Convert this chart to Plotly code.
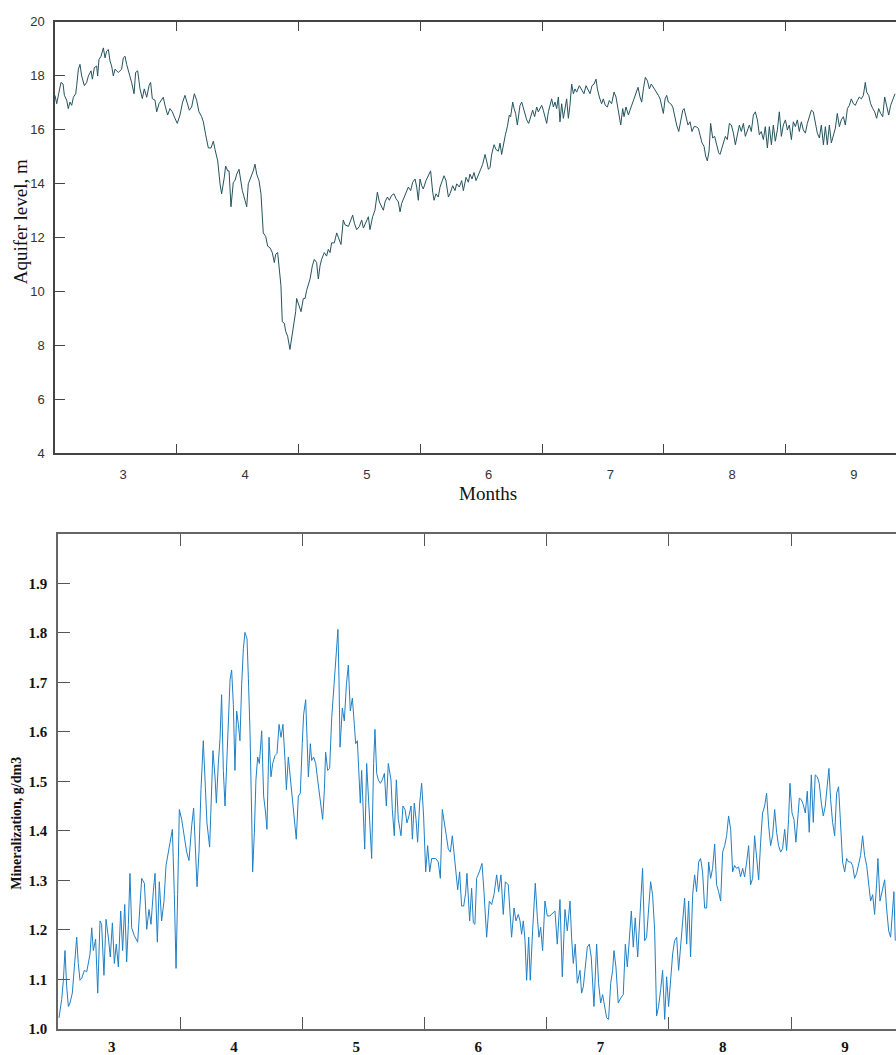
import plotly.graph_objects as go

# ---------------- data ----------------
month_labels = ["3", "4", "5", "6", "7", "8", "9"]
month_boundaries = [4, 5, 6, 7, 8, 9]

# Aquifer level (m) vs time in months
level_x = [
    3.000, 3.014, 3.033, 3.049, 3.066, 3.077, 3.096, 3.109, 3.123, 3.137,
    3.151, 3.170, 3.178, 3.192, 3.205, 3.219, 3.241, 3.260, 3.274, 3.296,
    3.307, 3.323, 3.342, 3.350, 3.361, 3.378, 3.397, 3.411, 3.424, 3.438,
    3.452, 3.465, 3.479, 3.493, 3.520, 3.547, 3.561, 3.575, 3.588, 3.608,
    3.629, 3.649, 3.662, 3.679, 3.698, 3.717, 3.733, 3.753, 3.772, 3.785,
    3.799, 3.821, 3.835, 3.854, 3.870, 3.889, 3.903, 3.925, 3.944, 3.963,
    3.985, 4.004, 4.026, 4.048, 4.067, 4.086, 4.103, 4.122, 4.144, 4.163,
    4.182, 4.204, 4.218, 4.237, 4.259, 4.281, 4.300, 4.314, 4.336, 4.355,
    4.368, 4.390, 4.401, 4.418, 4.429, 4.445, 4.464, 4.478, 4.492, 4.511,
    4.527, 4.538, 4.560, 4.574, 4.587, 4.609, 4.628, 4.642, 4.656, 4.675,
    4.691, 4.710, 4.730, 4.746, 4.765, 4.784, 4.801, 4.812, 4.828, 4.839,
    4.855, 4.866, 4.883, 4.894, 4.910, 4.929, 4.943, 4.957, 4.976, 4.984,
    5.003, 5.020, 5.039, 5.053, 5.066, 5.080, 5.094, 5.113, 5.129, 5.148,
    5.162, 5.176, 5.189, 5.211, 5.230, 5.244, 5.258, 5.271, 5.293, 5.313,
    5.332, 5.348, 5.367, 5.381,
    5.409, 5.428, 5.444, 5.458, 5.477, 5.499, 5.518, 5.532, 5.554, 5.573,
    5.586, 5.608, 5.627, 5.647, 5.663, 5.682, 5.696, 5.710, 5.729, 5.745,
    5.764, 5.783, 5.800, 5.819, 5.833, 5.846, 5.866, 5.882, 5.901, 5.920,
    5.937, 5.956, 5.970, 5.983, 5.997, 6.011, 6.024, 6.046, 6.065, 6.084,
    6.101, 6.112, 6.128, 6.147, 6.161, 6.178, 6.194, 6.210, 6.230, 6.243,
    6.265, 6.284, 6.298, 6.320, 6.339, 6.353, 6.375, 6.394, 6.407, 6.424,
    6.440, 6.457, 6.476, 6.495, 6.511, 6.531, 6.544, 6.558, 6.572, 6.585,
    6.605, 6.621, 6.640, 6.654, 6.667, 6.681, 6.698, 6.714, 6.730, 6.741,
    6.758, 6.769, 6.782, 6.796, 6.807, 6.818, 6.832, 6.845, 6.859, 6.873,
    6.889, 6.905, 6.922, 6.938, 6.955, 6.968, 6.982, 6.996, 7.009, 7.023,
    7.037, 7.051, 7.064, 7.078, 7.092, 7.105, 7.119, 7.133, 7.146, 7.160,
    7.174, 7.187, 7.201, 7.215, 7.228, 7.242, 7.256, 7.269, 7.283, 7.305,
    7.324, 7.343, 7.360, 7.379, 7.393, 7.409, 7.426, 7.442, 7.453, 7.469,
    7.488, 7.502, 7.518, 7.535, 7.551, 7.570, 7.590, 7.606, 7.625, 7.639,
    7.645, 7.661, 7.672, 7.688, 7.708, 7.721, 7.735, 7.754, 7.770, 7.787,
    7.803, 7.817, 7.831, 7.847, 7.864, 7.880, 7.896, 7.913, 7.935, 7.954,
    7.968, 7.981, 7.995, 8.009, 8.022, 8.036, 8.055, 8.072, 8.091, 8.104,
    8.121, 8.137, 8.154, 8.165, 8.181, 8.197, 8.214, 8.230, 8.247, 8.263,
    8.282, 8.296, 8.312, 8.329, 8.342, 8.356, 8.370, 8.383, 8.400, 8.416,
    8.433, 8.449, 8.460, 8.477, 8.488, 8.504, 8.520, 8.537, 8.553, 8.570,
    8.586, 8.602, 8.619, 8.635, 8.652, 8.668, 8.685, 8.701, 8.717, 8.734,
    8.750, 8.767, 8.783, 8.799, 8.816, 8.832, 8.849, 8.865, 8.882, 8.898,
    8.914, 8.931, 8.947, 8.964, 8.980, 8.997, 9.013, 9.029, 9.046, 9.062,
    9.079, 9.095, 9.111, 9.128, 9.144, 9.161, 9.177, 9.194, 9.210, 9.226,
    9.243, 9.259, 9.276, 9.292, 9.309, 9.325, 9.341, 9.358, 9.374, 9.391,
    9.407, 9.423, 9.440, 9.456, 9.473, 9.489, 9.506, 9.522, 9.538, 9.555,
    9.571, 9.588, 9.604, 9.620, 9.637, 9.653, 9.664, 9.681, 9.697, 9.714,
    9.730, 9.746, 9.763, 9.779, 9.796, 9.812, 9.828, 9.845, 9.861, 9.878,
    9.897,
]
level_m = [
    17.27, 16.96, 17.39, 17.75, 17.69, 17.27, 17.09, 16.78, 17.02, 16.90,
    17.20, 17.33, 17.63, 18.24, 18.42, 17.99, 17.63, 17.75, 17.99, 18.18,
    17.87, 18.30, 18.36, 17.99, 18.60, 18.72, 19.03, 18.66, 18.91, 18.97,
    18.54, 18.36, 17.99, 18.24, 18.12, 18.24, 18.66, 18.72, 18.42, 18.12,
    17.75, 17.33, 18.12, 18.18, 17.51, 17.15, 17.51, 17.20, 17.63, 17.75,
    17.15, 17.09, 16.66, 16.96, 17.09, 17.20, 16.90, 16.54, 16.78, 16.66,
    16.42, 16.23, 16.54, 17.02, 17.27, 17.02, 16.72, 16.84, 17.33, 17.09,
    16.66, 16.48, 16.29, 15.81, 15.32, 15.32, 15.57, 15.26, 14.84, 13.99,
    13.62, 14.23, 14.65, 14.47, 14.47, 13.14, 14.05, 14.11, 14.35, 14.53,
    14.11, 13.74, 13.38, 13.14, 13.99, 14.23, 14.47, 14.72, 14.35, 14.11,
    13.62, 12.17, 12.04, 11.68, 11.62, 11.44, 11.07, 11.38, 11.44, 10.95,
    10.22, 8.88, 8.82, 8.52, 8.34, 7.85, 8.28, 8.52, 9.25, 9.74,
    9.49, 9.25, 9.74, 9.74, 10.04, 10.22, 10.46, 10.95, 11.19, 11.07,
    10.46, 10.95, 11.19, 11.44, 11.31, 11.56, 11.44, 11.80, 11.80, 12.17,
    11.92, 11.74, 12.65, 12.47,
    12.41, 12.65, 12.83, 12.53, 12.29, 12.41, 12.65, 12.35, 12.59, 12.77,
    12.29, 12.77, 13.01, 13.68, 13.32, 13.14, 13.01, 13.32, 13.50, 13.38,
    13.56, 13.62, 13.44, 13.32, 12.95, 13.26, 13.50, 13.68, 13.87, 13.74,
    14.05, 14.17, 13.87, 13.38, 14.17, 13.92, 13.80, 14.11, 14.29, 14.47,
    13.68, 13.38, 13.62, 13.50, 13.87, 14.05, 14.29, 14.11, 13.50, 13.62,
    13.92, 13.74, 13.99, 13.87, 14.11, 13.74, 14.23, 14.05, 14.35, 14.17,
    14.41, 14.11, 14.29, 14.53, 14.71, 15.08, 14.84, 14.53, 14.59, 15.08,
    15.44, 15.26, 15.20, 15.50, 15.08, 15.44, 15.81, 16.11, 16.54, 16.48,
    17.02, 16.78, 16.60, 16.17, 16.48, 16.90, 17.02, 16.78, 16.60, 16.36,
    16.23, 16.48, 16.72, 16.48, 16.84, 16.66, 16.78, 16.90, 16.72, 16.48,
    16.23, 16.66, 16.90, 17.14, 16.84, 17.02, 16.78, 17.21, 16.29, 16.96,
    16.42, 16.78, 17.14, 16.42, 16.90, 17.69, 17.33, 17.51, 17.39, 17.63,
    17.45, 17.33, 17.63, 17.45, 17.33, 17.63, 17.69, 17.87, 17.51, 17.21,
    16.96, 17.14, 16.90, 16.84, 17.08, 16.96, 17.39, 17.21, 16.66, 16.23,
    16.17, 16.78, 16.48, 16.84, 16.54, 16.72, 16.90, 17.14, 17.33, 17.57,
    17.21, 17.02, 17.51, 17.94, 17.81, 17.51, 17.69, 17.57, 17.45, 17.27,
    17.14, 16.90, 16.60, 17.14, 17.27, 17.02, 16.96, 16.84, 16.36, 16.17,
    15.93, 16.29, 16.72, 16.78, 16.42, 16.17, 16.29, 15.93, 16.11, 16.11,
    16.05, 15.75, 15.51, 15.38, 15.02, 14.84, 15.20, 16.23, 15.69, 15.75,
    15.44, 15.14, 15.08, 15.38, 15.57, 15.75, 15.63, 16.23, 16.17, 15.87,
    15.44, 15.87, 16.17, 15.93, 16.23, 15.75, 15.99, 16.17, 15.93, 16.54,
    16.66, 16.36, 15.81, 15.93, 15.63, 16.11, 15.32, 16.11, 15.44, 16.17,
    15.57, 15.99, 16.66, 15.75, 16.17, 16.36, 15.99, 16.17, 15.63, 16.29,
    16.11, 16.36, 15.93, 16.29, 15.99, 15.87, 16.23, 16.54, 16.72, 16.66,
    16.29, 15.87, 15.69, 16.17, 15.44, 16.11, 15.44, 16.17, 15.51, 15.75,
    16.05, 16.60, 16.11, 16.36, 16.48, 16.17, 16.78, 16.90, 17.14, 16.96,
    16.90, 17.08, 17.21, 17.14, 17.27, 17.75, 17.39, 17.27, 16.96, 16.78,
    16.66, 16.42, 16.78, 16.60, 16.48, 17.21, 16.90, 16.54, 16.90, 17.14,
    17.33,
]

# Mineralization (g/dm3) vs time in months
mineral_x = [
    3.008, 3.030, 3.044, 3.057, 3.071, 3.085, 3.098, 3.117, 3.134, 3.153,
    3.166, 3.180, 3.194, 3.216, 3.235, 3.248, 3.262, 3.276, 3.289, 3.308,
    3.325, 3.344, 3.357, 3.376, 3.393, 3.412, 3.428, 3.445, 3.461, 3.477,
    3.494, 3.513, 3.529, 3.546, 3.562, 3.576, 3.589, 3.603, 3.625, 3.652,
    3.671, 3.685, 3.707, 3.726, 3.745, 3.761, 3.780, 3.794, 3.813, 3.829,
    3.848, 3.867, 3.884, 3.903, 3.919, 3.936, 3.952, 3.966, 3.979, 3.993,
    4.012, 4.034, 4.053, 4.072, 4.080, 4.094, 4.110, 4.121, 4.138, 4.154,
    4.170, 4.189, 4.203, 4.219, 4.241, 4.258, 4.268, 4.285, 4.296, 4.312,
    4.326, 4.339, 4.353, 4.367, 4.380, 4.394, 4.408, 4.421, 4.435, 4.448,
    4.462, 4.476, 4.489, 4.503, 4.517, 4.530, 4.547, 4.558, 4.571, 4.585,
    4.593, 4.607, 4.620, 4.634, 4.648, 4.667, 4.683, 4.699, 4.710, 4.727,
    4.743, 4.757, 4.776, 4.792, 4.809, 4.825, 4.841, 4.858, 4.869, 4.885,
    4.901, 4.918, 4.934, 4.950, 4.967, 4.983, 4.999, 5.010, 5.027, 5.038,
    5.049, 5.065, 5.076, 5.092, 5.109, 5.125, 5.144, 5.166, 5.180, 5.190,
    5.207, 5.223, 5.240, 5.256, 5.267, 5.280, 5.291, 5.300, 5.308, 5.327,
    5.343, 5.360, 5.376, 5.392, 5.409, 5.425, 5.436, 5.450, 5.463, 5.474,
    5.485, 5.499, 5.510, 5.526, 5.540, 5.553, 5.567, 5.583, 5.594, 5.608,
    5.621, 5.638, 5.654, 5.671, 5.687, 5.703, 5.725, 5.736, 5.752, 5.769,
    5.785, 5.807, 5.823, 5.840, 5.856, 5.872, 5.889, 5.900, 5.916, 5.930,
    5.943, 5.960, 5.976, 5.992, 6.009, 6.025, 6.042, 6.058, 6.074, 6.091,
    6.112, 6.129, 6.145, 6.162, 6.178, 6.194, 6.211, 6.227, 6.243, 6.260,
    6.271, 6.287, 6.303, 6.320, 6.336, 6.347, 6.358, 6.369, 6.385, 6.399,
    6.412,
    6.426, 6.448, 6.470, 6.486, 6.508, 6.530, 6.549, 6.568, 6.590, 6.606,
    6.625, 6.644, 6.661, 6.685, 6.699, 6.712, 6.732, 6.748, 6.767, 6.781,
    6.794, 6.808, 6.822, 6.835, 6.852, 6.865, 6.884, 6.906, 6.923, 6.936,
    6.950, 6.966, 6.985, 7.004, 7.026, 7.048, 7.067, 7.086, 7.108, 7.127,
    7.149, 7.168, 7.190, 7.203, 7.217, 7.233, 7.250, 7.272, 7.285, 7.299,
    7.315, 7.332, 7.348, 7.364, 7.386, 7.408, 7.424, 7.441, 7.457, 7.474,
    7.490, 7.506, 7.523, 7.539, 7.550, 7.566, 7.585, 7.605, 7.626, 7.643,
    7.659, 7.675, 7.692, 7.708, 7.724, 7.744, 7.763, 7.784, 7.801, 7.817,
    7.834, 7.850, 7.866, 7.883, 7.899, 7.915, 7.932, 7.948, 7.965, 7.981,
    7.997, 8.014, 8.030, 8.046, 8.063, 8.079, 8.096, 8.112, 8.128, 8.145,
    8.161, 8.177, 8.194, 8.210, 8.226, 8.243, 8.259, 8.275, 8.292, 8.308,
    8.325, 8.341, 8.357, 8.374, 8.390, 8.406, 8.423, 8.439, 8.456, 8.472,
    8.488, 8.505, 8.521, 8.537, 8.554, 8.570, 8.586, 8.603, 8.619, 8.636,
    8.652, 8.668, 8.685, 8.701, 8.717, 8.734, 8.750, 8.766, 8.783, 8.799,
    8.816, 8.832, 8.848, 8.865, 8.881, 8.897, 8.914, 8.930, 8.947, 8.963,
    8.979, 8.990, 9.007, 9.023, 9.039, 9.056, 9.067, 9.083, 9.099, 9.116,
    9.132, 9.148, 9.165, 9.181, 9.197, 9.214, 9.230, 9.247, 9.263, 9.279,
    9.296, 9.309, 9.323, 9.339, 9.356, 9.372, 9.388, 9.405, 9.421, 9.438,
    9.454, 9.470, 9.487, 9.503, 9.519, 9.536, 9.552, 9.568, 9.585, 9.601,
    9.618, 9.634, 9.650, 9.667, 9.683, 9.699, 9.710, 9.727, 9.743, 9.765,
    9.781, 9.798, 9.814, 9.830, 9.841, 9.852,
]
mineral_g = [
    1.022, 1.059, 1.098, 1.158, 1.085, 1.045, 1.052, 1.072, 1.125, 1.185,
    1.132, 1.098, 1.102, 1.118, 1.115, 1.132, 1.151, 1.204, 1.158, 1.181,
    1.072, 1.218, 1.211, 1.108, 1.221, 1.185, 1.145, 1.214, 1.132, 1.171,
    1.125, 1.238, 1.158, 1.251, 1.135, 1.211, 1.314, 1.204, 1.188, 1.175,
    1.238, 1.304, 1.294, 1.201, 1.241, 1.211, 1.277, 1.314, 1.175, 1.297,
    1.218, 1.257, 1.330, 1.357, 1.383, 1.403, 1.271, 1.122, 1.271, 1.443,
    1.423, 1.390, 1.357, 1.340, 1.370, 1.410, 1.446, 1.383, 1.287, 1.357,
    1.483, 1.582, 1.503, 1.416, 1.367, 1.470, 1.562, 1.509, 1.456, 1.536,
    1.586, 1.675, 1.522, 1.450, 1.536, 1.615, 1.705, 1.725, 1.655, 1.522,
    1.642, 1.615, 1.582, 1.695, 1.768, 1.801, 1.788, 1.708, 1.602, 1.430,
    1.317, 1.397, 1.503, 1.549, 1.536, 1.602, 1.470, 1.436, 1.403, 1.589,
    1.509, 1.536, 1.552, 1.556, 1.615, 1.589, 1.615, 1.542, 1.483, 1.549,
    1.509, 1.470, 1.430, 1.383, 1.470, 1.476, 1.576, 1.635, 1.665, 1.602,
    1.509, 1.576, 1.542, 1.549, 1.536, 1.503, 1.470, 1.423, 1.483, 1.559,
    1.522, 1.526, 1.629, 1.688, 1.715, 1.761, 1.807, 1.701, 1.569, 1.648,
    1.622, 1.695, 1.735, 1.642, 1.668, 1.615, 1.576, 1.582, 1.509, 1.456,
    1.522, 1.436, 1.363, 1.536, 1.470, 1.403, 1.344, 1.536, 1.605, 1.516,
    1.503, 1.496, 1.503, 1.516, 1.450, 1.536, 1.503, 1.443, 1.390, 1.503,
    1.423, 1.390, 1.450, 1.443, 1.416, 1.430, 1.450, 1.383, 1.456, 1.423,
    1.377, 1.456, 1.496, 1.430, 1.317, 1.370, 1.317, 1.344, 1.344, 1.344,
    1.337, 1.304, 1.443, 1.410, 1.390, 1.363, 1.357, 1.390, 1.350, 1.317,
    1.281, 1.317, 1.248, 1.248, 1.274, 1.314, 1.257, 1.218, 1.284, 1.214,
    1.211,
    1.304, 1.317, 1.334, 1.277, 1.185, 1.258, 1.251, 1.271, 1.311, 1.277,
    1.311, 1.231, 1.297, 1.291, 1.238, 1.185, 1.244, 1.218, 1.231, 1.218,
    1.191, 1.218, 1.178, 1.098, 1.185, 1.098, 1.198, 1.294, 1.224, 1.185,
    1.205, 1.158, 1.258, 1.228, 1.228, 1.234, 1.238, 1.171, 1.261, 1.105,
    1.241, 1.198, 1.258, 1.185, 1.132, 1.171, 1.092, 1.118, 1.072, 1.085,
    1.118, 1.165, 1.171, 1.145, 1.045, 1.171, 1.092, 1.052, 1.069, 1.045,
    1.022, 1.019, 1.092, 1.118, 1.158, 1.125, 1.052, 1.062, 1.069, 1.171,
    1.125, 1.178, 1.238, 1.165, 1.224, 1.145, 1.238, 1.324, 1.178, 1.185,
    1.244, 1.297, 1.271, 1.198, 1.026, 1.045, 1.079, 1.118, 1.019, 1.105,
    1.045, 1.105, 1.151, 1.178, 1.185, 1.118, 1.171, 1.224, 1.264, 1.171,
    1.258, 1.145, 1.271, 1.311, 1.277, 1.337, 1.344, 1.317, 1.244, 1.244,
    1.337, 1.304, 1.324, 1.373, 1.291, 1.277, 1.258, 1.357, 1.370, 1.390,
    1.430, 1.403, 1.317, 1.330, 1.324, 1.327, 1.307, 1.324, 1.307, 1.337,
    1.370, 1.291, 1.304, 1.390, 1.350, 1.301, 1.377, 1.436, 1.450, 1.476,
    1.410, 1.370, 1.390, 1.443, 1.397, 1.370, 1.357, 1.364, 1.403, 1.360,
    1.423, 1.496, 1.436, 1.423, 1.377, 1.423, 1.466, 1.463, 1.453, 1.436,
    1.480, 1.397, 1.513, 1.417, 1.513, 1.509, 1.496, 1.456, 1.430, 1.450,
    1.496, 1.526, 1.463, 1.417, 1.390, 1.476, 1.489, 1.410, 1.337, 1.317,
    1.344, 1.337, 1.337, 1.330, 1.304, 1.314, 1.330, 1.350, 1.390, 1.350,
    1.330, 1.297, 1.258, 1.271, 1.231, 1.291, 1.344, 1.258, 1.277, 1.301,
    1.244, 1.198, 1.185, 1.251, 1.277, 1.178,
]

level_ticks = [4, 6, 8, 10, 12, 14, 16, 18, 20]
mineral_ticks = [1.0, 1.1, 1.2, 1.3, 1.4, 1.5, 1.6, 1.7, 1.8, 1.9]

# ---------------- figure ----------------
W, H = 896, 1055
TOP_LABEL_OFFSET = 0.56
BOT_LABEL_OFFSET = 0.44

fig = go.Figure()
fig.add_trace(go.Scatter(x=level_x, y=level_m, mode="lines",
                         line=dict(color="#24535e", width=1),
                         xaxis="x", yaxis="y", showlegend=False))
fig.add_trace(go.Scatter(x=mineral_x, y=mineral_g, mode="lines",
                         line=dict(color="#1f80c6", width=1),
                         xaxis="x2", yaxis="y2", showlegend=False))

sans = dict(family="Liberation Sans, Arial", size=13, color="#333333")
serif_bold = dict(family="Liberation Serif, Times New Roman", size=15,
                  color="#111111", weight="bold")

top_label_pos = [int(m) + TOP_LABEL_OFFSET for m in month_labels]
bot_label_pos = [int(m) + BOT_LABEL_OFFSET for m in month_labels]

fig.update_layout(
    width=W, height=H,
    margin=dict(l=0, r=0, t=0, b=0),
    paper_bgcolor="white", plot_bgcolor="white",
    xaxis=dict(
        domain=[55 / W, 1.0], anchor="y", range=[3, 9.905],
        showline=True, linecolor="#444444", linewidth=1.5, mirror="ticks",
        tickmode="array", tickvals=top_label_pos, ticktext=month_labels,
        ticks="", tickfont=sans, ticklabelstandoff=8,
        showgrid=False, zeroline=False,
        minor=dict(tickmode="array", tickvals=month_boundaries,
                   ticks="inside", ticklen=10, tickwidth=1.3,
                   tickcolor="#444444", showgrid=False),
    ),
    yaxis=dict(
        domain=[1 - 454 / H, 1 - 15 / H], anchor="x", range=[4, 20],
        showline=True, linecolor="#444444", linewidth=1.5, mirror=False,
        tickmode="array", tickvals=level_ticks,
        ticks="inside", ticklen=10, tickwidth=1.3, tickcolor="#444444",
        tickfont=sans, ticklabelstandoff=6,
        showgrid=False, zeroline=False,
    ),
    xaxis2=dict(
        domain=[58 / W, 1.0], anchor="y2", range=[3, 9.858],
        showline=True, linecolor="#666666", linewidth=1.5, mirror="ticks",
        tickmode="array", tickvals=bot_label_pos, ticktext=month_labels,
        ticks="", tickfont=serif_bold, ticklabelstandoff=3,
        showgrid=False, zeroline=False,
        minor=dict(tickmode="array", tickvals=month_boundaries,
                   ticks="inside", ticklen=12, tickwidth=1.3,
                   tickcolor="#555555", showgrid=False),
    ),
    yaxis2=dict(
        domain=[1 - 1039.5 / H, 1 - 536 / H], anchor="x2", range=[1.0, 2.0],
        showline=True, linecolor="#666666", linewidth=1.5, mirror=False,
        tickmode="array", tickvals=mineral_ticks,
        ticktext=[f"{v:.1f}" for v in mineral_ticks],
        ticks="inside", ticklen=12, tickwidth=1.3, tickcolor="#555555",
        tickfont=serif_bold, ticklabelstandoff=6,
        showgrid=False, zeroline=False,
    ),
    annotations=[
        dict(text="Months", x=488 / W, y=1 - 495 / H, xref="paper", yref="paper",
             showarrow=False, xanchor="center", yanchor="middle",
             font=dict(family="Liberation Serif, Times New Roman", size=19, color="#111111")),
        dict(text="Aquifer level, m", x=20 / W, y=1 - 219 / H, xref="paper", yref="paper",
             showarrow=False, xanchor="center", yanchor="middle", textangle=-90,
             font=dict(family="Liberation Serif, Times New Roman", size=19, color="#111111")),
        dict(text="Mineralization, g/dm3", x=17 / W, y=1 - 831 / H, xref="paper", yref="paper",
             showarrow=False, xanchor="center", yanchor="middle", textangle=-90,
             font=dict(family="Liberation Serif, Times New Roman", size=14, color="#111111",
                       weight="bold")),
    ],
)

# place the fixed-size figure at the page origin (no default body margin)
page_fix = (
    "document.documentElement.style.margin='0';"
    "document.body.style.margin='0';"
    "document.body.style.overflow='hidden';"
    "var g=document.getElementById('{plot_id}');"
    "g.style.position='absolute';g.style.left='0px';g.style.top='0px';"
)

fig.write_html("out.html", post_script=page_fix,
               config={"displayModeBar": False})
